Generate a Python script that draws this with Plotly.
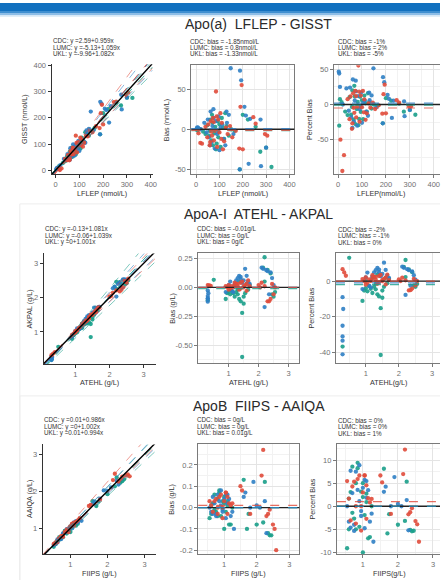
import plotly.graph_objects as go

W, H = 444, 583
FONT = "Liberation Sans, Arial, sans-serif"
LABS = ["CDC", "LUMC", "UKL"]
LAB_COLORS = ["#1A9E8A", "#2F7FC4", "#E04B3B"]

# ---------------- Apo(a): LFLEP (x) and bias GISST-LFLEP ----------------
apoa_cdc_x = [5, 8, 15, 30, 40, 48, 55, 60, 65, 70, 72, 78, 82, 88, 92, 95, 100, 105, 110, 115, 120, 125, 130, 140, 150, 165, 187, 200, 222, 255, 275, 300, 323, 58, 68, 85]
apoa_cdc_bias = [-1.5, 0.6, 0.5, -3, -6, 5, -8, 12, -14, 8, -20, -5, 3, -18, 10, -10, 6, -22, 14, 2, -12, 20, 4, -8, 0, -2, -50, 18, 12, 3, -28, -23, -47, -2, 18, -25]
apoa_lumc_x = [3, 5, 8, 20, 35, 45, 50, 55, 62, 66, 70, 74, 80, 84, 90, 96, 100, 105, 112, 118, 125, 132, 140, 148, 160, 188, 193, 207, 213, 232, 276, 225, 278, 187, 300, 60, 75, 95, 130]
apoa_lumc_bias = [1.4, 2.2, 2, 0, 8, -4, 12, -10, 22, -16, 4, 25, -24, 10, -6, 16, -26, 2, 6, -12, -20, 8, 18, 76, -6, 73, 61, 28, 17, 13, 12, -43, -46, -50, -23, -20, 14, -3, 22]
apoa_ukl_x = [10, 18, 25, 40, 48, 52, 58, 63, 68, 72, 76, 80, 85, 90, 95, 100, 104, 110, 115, 120, 128, 135, 145, 155, 185, 190, 195, 200, 245, 255, 295, 305, 65, 88, 108, 170, 60, 75]
apoa_ukl_bias = [-5, -17, -18, 3, -10, 6, -20, 10, -8, 14, -14, -2, 47, -22, 12, -4, 20, 8, -25, -15, 2, -6, 4, -10, -24, 28, 55, -25, 15, 7, -6, -8, -3, 16, -12, -2, -16, 9]
apoa_intercepts = [2.59, -5.13, -9.96]
apoa_slopes = [0.959, 1.059, 1.082]
apoa_band_lo = [0.90, 0.95, 0.98]
apoa_band_hi = [1.02, 1.15, 1.22]
apoa_mean_bias = [-1.85, 0.8, -1.33]
apoa_mean_pct = [-1, 2, -5]

# ---------------- ApoA-I: ATEHL (x) and bias AKPAL-ATEHL ----------------
apoai_cdc_x = [0.5, 0.9, 0.95, 1.0, 1.05, 1.1, 1.15, 1.2, 1.25, 1.3, 1.35, 1.4, 1.45, 1.45, 1.5, 1.55, 1.6, 1.65, 1.7, 1.2, 1.35, 2.15, 2.2, 2.3, 2.4, 2.45, 2.5, 2.55, 2.2, 1.0, 1.3, 1.5, 0.3]
apoai_cdc_bias = [0.065, -0.1, -0.05, -0.04, -0.06, -0.03, -0.05, -0.08, -0.04, -0.06, -0.1, -0.12, -0.6, -0.22, -0.08, -0.05, 0.03, -0.02, 0.02, 0.02, 0.05, 0.17, 0.26, 0.15, 0.12, -0.06, -0.08, -0.04, 0.05, 0.0, -0.02, -0.14, -0.11]
apoai_lumc_x = [0.3, 0.3, 0.3, 0.3, 0.32, 0.3, 0.9, 1.0, 1.1, 1.2, 1.25, 1.3, 1.35, 1.4, 1.4, 1.45, 1.5, 1.55, 1.6, 1.65, 1.7, 1.15, 2.1, 2.15, 2.25, 2.3, 2.4, 2.45, 2.5, 2.2, 2.35, 1.05]
apoai_lumc_bias = [-0.123, -0.1, -0.093, -0.075, -0.05, -0.027, -0.04, 0.02, -0.03, 0.03, 0.06, 0.08, 0.1, 0.09, 0.07, 0.04, 0.06, 0.16, 0.1, 0.05, 0.03, -0.04, 0.17, 0.16, 0.15, 0.14, 0.13, 0.08, 0.02, -0.17, -0.06, 0.05]
apoai_ukl_x = [0.3, 0.35, 0.4, 0.9, 0.95, 1.0, 1.05, 1.1, 1.15, 1.2, 1.25, 1.3, 1.35, 1.4, 1.45, 1.5, 1.55, 1.6, 1.65, 1.7, 1.0, 1.2, 1.4, 1.6, 2.0, 2.05, 2.1, 2.2, 2.3, 2.35, 2.4, 2.45, 2.5, 2.55, 1.3, 1.5]
apoai_ukl_bias = [0.02, 0.017, 0.012, 0.01, 0.0, 0.02, -0.01, 0.01, 0.0, 0.02, 0.03, 0.01, -0.02, 0.04, 0.05, 0.0, 0.02, -0.03, 0.06, 0.01, -0.02, 0.04, -0.01, 0.03, 0.02, 0.0, 0.04, 0.01, -0.12, -0.12, -0.1, 0.03, -0.06, 0.0, 0.03, 0.01]
apoai_intercepts = [-0.13, -0.06, 0]
apoai_slopes = [1.081, 1.039, 1.001]
apoai_band_lo = [0.95, 0.97, 0.94]
apoai_band_hi = [1.20, 1.11, 1.06]
apoai_mean_bias = [-0.01, 0, 0]
apoai_mean_pct = [-2, -1, 0]

# ---------------- ApoB: FIIPS (x) and bias AAIQA-FIIPS ----------------
apob_cdc_x = [0.55, 0.6, 0.65, 0.7, 0.75, 0.8, 0.85, 0.9, 0.95, 1.0, 1.05, 1.1, 1.15, 1.2, 1.25, 0.7, 0.85, 1.0, 1.1, 1.6, 1.7, 1.75, 2.0, 2.2, 2.25, 2.35, 2.4, 2.45, 1.0, 0.8, 0.6]
apob_cdc_bias = [-0.05, -0.03, 0.02, 0.06, -0.02, 0.04, 0.07, -0.04, 0.03, 0.05, -0.02, 0.01, -0.08, -0.08, 0.0, -0.01, 0.08, -0.1, 0.03, 0.13, -0.1, -0.03, -0.08, -0.07, 0.12, -0.12, -0.13, -0.13, 0.02, -0.04, 0.01]
apob_lumc_x = [0.55, 0.6, 0.65, 0.7, 0.75, 0.8, 0.85, 0.9, 0.95, 1.0, 1.05, 1.1, 1.15, 1.2, 1.3, 0.75, 0.9, 1.05, 1.6, 1.65, 1.8, 1.9, 2.0, 2.1, 2.25, 2.3, 1.25, 0.95, 0.65, 1.1]
apob_lumc_bias = [0.0, -0.02, 0.05, 0.02, -0.04, 0.06, 0.03, 0.08, -0.02, 0.04, -0.05, 0.02, 0.04, -0.04, -0.1, -0.03, 0.01, 0.06, 0.05, 0.07, 0.0, 0.12, 0.01, 0.0, 0.03, -0.12, -0.02, -0.01, -0.03, 0.06]
apob_ukl_x = [0.55, 0.6, 0.65, 0.7, 0.75, 0.8, 0.85, 0.9, 0.95, 1.0, 1.05, 1.1, 1.15, 1.2, 1.25, 0.8, 0.95, 1.05, 1.5, 1.55, 1.8, 2.15, 2.2, 2.3, 2.35, 2.4, 2.5, 2.55, 2.6, 1.1]
apob_ukl_bias = [0.03, 0.01, -0.02, 0.03, 0.04, -0.03, 0.05, 0.06, 0.0, 0.03, 0.07, -0.03, 0.02, 0.01, 0.02, 0.0, -0.05, 0.07, 0.1, 0.08, -0.03, 0.15, 0.27, -0.04, -0.03, -0.01, -0.08, -0.1, -0.2, 0.05]
apob_intercepts = [0.01, 0, 0.01]
apob_slopes = [0.986, 1.002, 0.994]
apob_band_lo = [0.93, 0.96, 0.97]
apob_band_hi = [1.05, 1.06, 1.12]
apob_mean_bias = [0, 0, 0.01]
apob_mean_pct = [0, 0, 1]

# tick labels
t400 = [0, 100, 200, 300, 400]
t400_lab = ["0", "100", "200", "300", "400"]
t123 = [1, 2, 3]
t123_lab = ["1", "2", "3"]
apoa_bias_ticks = [-50, 0, 50]
apoa_bias_lab = ["-50", "0", "50"]
apoai_bias_ticks = [-0.5, -0.25, 0, 0.25]
apoai_bias_lab = ["-0.50", "-0.25", "0.00", "0.25"]
apoai_pct_ticks = [-40, -20, 0]
apoai_pct_lab = ["-40", "-20", "0"]
apob_bias_ticks = [-0.2, -0.1, 0, 0.1, 0.2]
apob_bias_lab = ["-0.2", "-0.1", "0.0", "0.1", "0.2"]
apob_pct_ticks = [-10, -5, 0, 5, 10]
apob_pct_lab = ["-10", "-5", "0", "5", "10"]


def fx(p):
    return p / W


def fy(p):
    return 1 - p / H


rows = [
    dict(title="Apo(a)\u00a0 LFLEP - GISST", ty=21,
         xs=[apoa_cdc_x, apoa_lumc_x, apoa_ukl_x], bs=[apoa_cdc_bias, apoa_lumc_bias, apoa_ukl_bias],
         icpt=apoa_intercepts, slope=apoa_slopes, blo=apoa_band_lo, bhi=apoa_band_hi,
         mb=apoa_mean_bias, mp=apoa_mean_pct, unit="nmol/L", ann_y=[38.5, 45, 51.5], xt_y=192,
         xtitles=["LFLEP (nmol/L)", "LFLEP (nmol/L)", "LFLEP(nmol/L)"],
         ytitles=["GISST (nmol/L)", "Bias (nmol/L)", "Percent Bias"], yt_x=[25, 168, 313], p_xt=384,
         S=dict(px=(52, 154, 62, 173), xr=[-17, 408], yr=[-15, 404], xt=(t400, t400_lab), yt=(t400, t400_lab)),
         B=dict(px=(193, 297, 63, 173), xr=[-21, 421], yr=[-56, 79.6], xt=(t400, t400_lab),
                yt=(apoa_bias_ticks, apoa_bias_lab), xm=50, ym=25),
         P=dict(px=(337, 444, 63, 173), xr=[-17, 426], yr=[-99, 55.6], xt=(t400, t400_lab),
                yt=(apoa_bias_ticks, apoa_bias_lab), xm=50, ym=25)),
    dict(title="ApoA-I\u00a0 ATEHL - AKPAL", ty=213,
         xs=[apoai_cdc_x, apoai_lumc_x, apoai_ukl_x], bs=[apoai_cdc_bias, apoai_lumc_bias, apoai_ukl_bias],
         icpt=apoai_intercepts, slope=apoai_slopes, blo=apoai_band_lo, bhi=apoai_band_hi,
         mb=apoai_mean_bias, mp=apoai_mean_pct, unit="g/L", ann_y=[228.5, 235, 241.5], xt_y=383,
         xtitles=["ATEHL (g/L)", "ATEHL (g/L)", "ATEHL(g/L)"],
         ytitles=["AKPAL (g/L)", "Bias (g/L)", "Percent Bias"], yt_x=[30, 174, 314], p_xt=392,
         S=dict(px=(44, 157, 253, 365), xr=[0.07, 3.35], yr=[0.056, 3.29], xt=(t123, t123_lab), yt=(t123, t123_lab)),
         B=dict(px=(200, 302, 253, 364), xr=[-0.02, 3.36], yr=[-0.654, 0.293], xt=(t123, t123_lab),
                yt=(apoai_bias_ticks, apoai_bias_lab), xm=0.5, ym=0.125),
         P=dict(px=(339, 444, 253, 364), xr=[0.1, 3.24], yr=[-46, 15.5], xt=(t123, t123_lab),
                yt=(apoai_pct_ticks, apoai_pct_lab), xm=0.5, ym=10)),
    dict(title="ApoB\u00a0 FIIPS - AAIQA", ty=407,
         xs=[apob_cdc_x, apob_lumc_x, apob_ukl_x], bs=[apob_cdc_bias, apob_lumc_bias, apob_ukl_bias],
         icpt=apob_intercepts, slope=apob_slopes, blo=apob_band_lo, bhi=apob_band_hi,
         mb=apob_mean_bias, mp=apob_mean_pct, unit="g/L", ann_y=[421.5, 428, 434.5], xt_y=576,
         xtitles=["FIIPS (g/L)", "FIIPS (g/L)", "FIIPS(g/L)"],
         ytitles=["AAIQA (g/L)", "Bias (g/L)", "Percent Bias"], yt_x=[30, 173, 315], p_xt=393,
         S=dict(px=(43, 157, 446, 557), xr=[0.25, 3.3], yr=[0.3, 3.26], xt=(t123, t123_lab), yt=(t123, t123_lab)),
         B=dict(px=(200, 302, 446, 557), xr=[0.2, 3.31], yr=[-0.219, 0.296], xt=(t123, t123_lab),
                yt=(apob_bias_ticks, apob_bias_lab), xm=0.5, ym=0.05),
         P=dict(px=(340, 444, 446, 557), xr=[0.26, 3.2], yr=[-10.4, 13.4], xt=(t123, t123_lab),
                yt=(apob_pct_ticks, apob_pct_lab), xm=0.5, ym=2.5)),
]

TICKFONT = dict(family=FONT, size=7.5, color="#707070")
TXT = "#333333"
fig = go.Figure()
layout = {}
annotations = []
shapes = []


def fmt(v):
    return f"{v:g}"


k = 0
for row in rows:
    annotations.append(dict(text=row["title"], x=fx(261), y=fy(row["ty"]), xref="paper", yref="paper",
                            showarrow=False, xanchor="center", yanchor="middle",
                            font=dict(family=FONT, size=14, color="#2a2a2a")))
    for j, ptype in enumerate(["S", "B", "P"]):
        k += 1
        g = row[ptype]
        xn = "x" if k == 1 else f"x{k}"
        yn = "y" if k == 1 else f"y{k}"
        l, r, t, b = g["px"]
        xaxis = dict(domain=[fx(l), fx(r)], range=g["xr"], anchor=yn, tickmode="array",
                     tickvals=g["xt"][0], ticktext=g["xt"][1], ticks="outside", ticklen=3,
                     tickfont=TICKFONT, zeroline=False, showline=True, linewidth=1)
        yaxis = dict(domain=[fy(b), fy(t)], range=g["yr"], anchor=xn, tickmode="array",
                     tickvals=g["yt"][0], ticktext=g["yt"][1], ticks="outside", ticklen=3,
                     tickfont=TICKFONT, zeroline=False, showline=True, linewidth=1)
        if ptype == "S":
            for ax in (xaxis, yaxis):
                ax.update(linecolor="#333333", tickcolor="#333333", showgrid=False)
        else:
            for ax, m in ((xaxis, g["xm"]), (yaxis, g["ym"])):
                ax.update(linecolor="#7a7a7a", tickcolor="#7a7a7a", showgrid=True,
                          gridcolor="#E4E4E4", gridwidth=0.8,
                          minor=dict(tickmode="linear", tick0=0, dtick=m, showgrid=True,
                                     gridcolor="#F2F2F2", gridwidth=0.6, ticks=""))
            xaxis["mirror"] = True
            yaxis["mirror"] = (ptype == "B")
        layout["xaxis" if k == 1 else f"xaxis{k}"] = xaxis
        layout["yaxis" if k == 1 else f"yaxis{k}"] = yaxis

        # points
        for i in range(3):
            xs = row["xs"][i]
            bs = row["bs"][i]
            if ptype == "S":
                yv = [x + d for x, d in zip(xs, bs)]
            elif ptype == "B":
                yv = bs
            else:
                yv = [100 * d / x for x, d in zip(xs, bs)]
            fig.add_trace(go.Scatter(x=xs, y=yv, mode="markers", xaxis=xn, yaxis=yn,
                                     marker=dict(size=4.3, color=LAB_COLORS[i], opacity=0.9,
                                                 line=dict(width=0)),
                                     name=LABS[i], showlegend=False, hoverinfo="skip"))
        # lines
        if ptype == "S":
            x0, x1 = g["xr"]
            for i in range(3):
                a = row["icpt"][i]
                for s, op in ((row["blo"][i], 0.55), (row["bhi"][i], 0.55), (row["slope"][i], 0.85)):
                    fig.add_trace(go.Scatter(x=[x0, x1], y=[a + s * x0, a + s * x1], mode="lines",
                                             xaxis=xn, yaxis=yn, opacity=op,
                                             line=dict(color=LAB_COLORS[i], width=1, dash="dash"),
                                             showlegend=False, hoverinfo="skip"))
            fig.add_trace(go.Scatter(x=[x0, x1], y=[x0, x1], mode="lines", xaxis=xn, yaxis=yn,
                                     line=dict(color="black", width=1.4), showlegend=False,
                                     hoverinfo="skip"))
        else:
            shapes.append(dict(type="line", xref=f"{xn} domain", yref=yn, x0=0, x1=1, y0=0, y1=0,
                               line=dict(color="#222222", width=1.3), layer="above"))
            means = row["mb"] if ptype == "B" else row["mp"]
            for i in range(3):
                shapes.append(dict(type="line", xref=f"{xn} domain", yref=yn, x0=0, x1=1,
                                   y0=means[i], y1=means[i],
                                   line=dict(color=LAB_COLORS[i], width=1.2, dash="dash"),
                                   layer="above", opacity=0.8))

        # stat text
        if ptype == "S":
            lines = [f"{LABS[i]}: y ={fmt(row['icpt'][i])}+{row['slope'][i]:.3f}x" for i in range(3)]
            tx = l - 1
        elif ptype == "B":
            lines = [f"{LABS[i]}: bias = {fmt(row['mb'][i])}{row['unit']}" for i in range(3)]
            tx = l - 3
        else:
            lines = [f"{LABS[i]}: bias = {fmt(row['mp'][i])}%" for i in range(3)]
            tx = 339
        for i, txt in enumerate(lines):
            annotations.append(dict(text=txt, x=fx(tx), y=fy(row["ann_y"][i]), xref="paper", yref="paper",
                                    showarrow=False, xanchor="left", yanchor="middle",
                                    font=dict(family=FONT, size=6.3, color=TXT)))
        # axis titles
        xc = (l + r) / 2 if ptype != "P" else row["p_xt"]
        annotations.append(dict(text=row["xtitles"][j], x=fx(xc), y=fy(row["xt_y"]), xref="paper",
                                yref="paper", showarrow=False, xanchor="center", yanchor="middle",
                                font=dict(family=FONT, size=7.2, color=TXT)))
        annotations.append(dict(text=row["ytitles"][j], x=fx(row["yt_x"][j]), y=fy((t + b) / 2),
                                xref="paper", yref="paper", showarrow=False, xanchor="center",
                                yanchor="middle", textangle=-90,
                                font=dict(family=FONT, size=7.2, color=TXT)))

# header band
for y0, y1, c in ((0, 8, "#1170BF"), (8, 10, "#3F8FD0"), (10, 12, "#8DBDE6"), (12, 14, "#D6E8F6")):
    shapes.append(dict(type="rect", xref="paper", yref="paper", x0=0, x1=1, y0=fy(y1), y1=fy(y0),
                       fillcolor=c, line=dict(width=0), layer="below"))
# faint frames around lower rows
for top in (203, 397):
    shapes.append(dict(type="line", xref="paper", yref="paper", x0=fx(20), x1=1, y0=fy(top), y1=fy(top),
                       line=dict(color="#EDEDED", width=1)))
    shapes.append(dict(type="line", xref="paper", yref="paper", x0=fx(20), x1=fx(20), y0=0, y1=fy(top),
                       line=dict(color="#EDEDED", width=1)))

fig.update_layout(width=W, height=H, margin=dict(l=0, r=0, t=0, b=0), paper_bgcolor="white",
                  plot_bgcolor="white", showlegend=False, annotations=annotations, shapes=shapes,
                  font=dict(family=FONT), **layout)
fig.write_html("out.html", config={"displayModeBar": False},
               post_script="document.body.style.margin='0';document.body.style.overflow='hidden';")
